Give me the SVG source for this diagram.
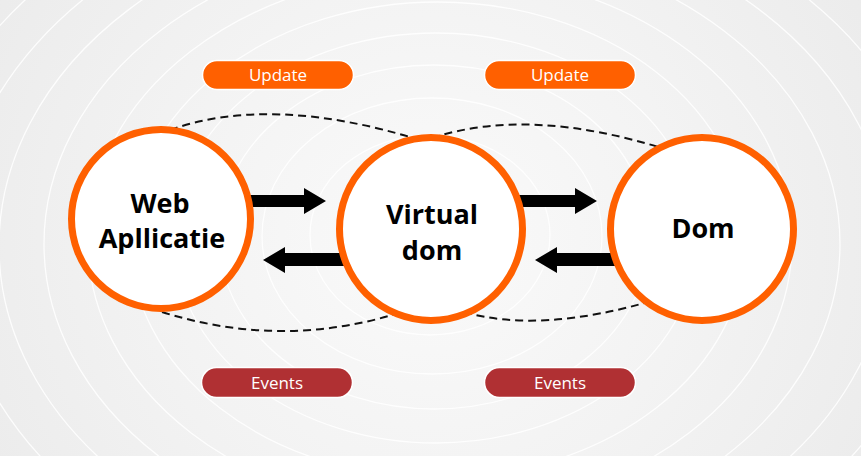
<svg xmlns="http://www.w3.org/2000/svg" width="861" height="456" viewBox="0 0 861 456">
<defs>
<radialGradient id="bg" cx="430" cy="240" r="520" gradientUnits="userSpaceOnUse">
<stop offset="0" stop-color="#fafafa"/>
<stop offset="0.5" stop-color="#f3f3f3"/>
<stop offset="1" stop-color="#ebebeb"/>
</radialGradient>
<style>
.ring{fill:none;stroke:#ffffff;stroke-width:1.3;opacity:0.85}
.dash{fill:none;stroke:#111;stroke-width:2;stroke-dasharray:8 5}
.node{fill:#ffffff;stroke:#ff6000;stroke-width:7}
.lbl{font-family:"Open Sans","Noto Sans",sans-serif;font-weight:bold;font-size:27px;fill:#000;text-anchor:middle}
.pill-u{fill:#ff6000;stroke:#ffffff;stroke-width:1.5}
.pill-e{fill:#b03033;stroke:#ffffff;stroke-width:1.5}
.ptxt{font-family:"Open Sans","Noto Sans",sans-serif;font-size:17px;fill:#ffffff;text-anchor:middle}
.arrow{fill:#000}
</style>
</defs>
<rect width="861" height="456" fill="url(#bg)"/>
<g id="background">
<ellipse class="ring" cx="430" cy="235" rx="70" ry="60"/>
<ellipse class="ring" cx="430" cy="235" rx="120" ry="100"/>
<ellipse class="ring" cx="432" cy="236" rx="170" ry="138"/>
<ellipse class="ring" cx="434" cy="237" rx="215" ry="172"/>
<ellipse class="ring" cx="436" cy="238" rx="262" ry="205"/>
<ellipse class="ring" cx="438" cy="240" rx="308" ry="238"/>
<ellipse class="ring" cx="440" cy="242" rx="352" ry="270"/>
<ellipse class="ring" cx="442" cy="244" rx="398" ry="302"/>
<ellipse class="ring" cx="444" cy="246" rx="445" ry="335"/>
<ellipse class="ring" cx="446" cy="248" rx="492" ry="368"/>
<ellipse class="ring" cx="448" cy="250" rx="540" ry="402"/>
<ellipse class="ring" cx="450" cy="252" rx="590" ry="438"/>
</g>
<g id="connectors">
<path class="dash" d="M170 130 Q271 94 420 140"/>
<path class="dash" d="M432 138 Q530 106 668 150"/>
<path class="dash" d="M162 312 Q283 350 402 312"/>
<path class="dash" d="M464 312 Q540 334 655 300"/>
<polygon class="arrow" points="245,195 304,195 304,188 326,201 304,214 304,207 245,207"/>
<polygon class="arrow" points="345,253 285,253 285,247 263,260 285,273 285,266 345,266"/>
<polygon class="arrow" points="515,195 575,195 575,188 597,201 575,214 575,207 515,207"/>
<polygon class="arrow" points="615,253 557,253 557,247 535,260 557,273 557,266 615,266"/>
</g>
<g id="node-web">
<circle class="node" cx="161" cy="219" r="89.5"/>
<text class="lbl" x="160" y="213">Web</text>
<text class="lbl" x="162" y="248">Apllicatie</text>
</g>
<g id="node-virtual">
<circle class="node" cx="431" cy="229" r="91.5"/>
<text class="lbl" x="432" y="224">Virtual</text>
<text class="lbl" x="432" y="260">dom</text>
</g>
<g id="node-dom">
<circle class="node" cx="702" cy="229" r="91.5"/>
<text class="lbl" x="703" y="238">Dom</text>
</g>
<g id="pill-update-1">
<rect class="pill-u" x="202.5" y="60.5" width="151" height="29" rx="14.5"/>
<text class="ptxt" x="278" y="81">Update</text>
</g>
<g id="pill-update-2">
<rect class="pill-u" x="484.5" y="60.5" width="151" height="29" rx="14.5"/>
<text class="ptxt" x="560" y="81">Update</text>
</g>
<g id="pill-events-1">
<rect class="pill-e" x="201.5" y="367.5" width="151" height="30" rx="15"/>
<text class="ptxt" x="277" y="389">Events</text>
</g>
<g id="pill-events-2">
<rect class="pill-e" x="484.5" y="367.5" width="151" height="30" rx="15"/>
<text class="ptxt" x="560" y="389">Events</text>
</g>
</svg>
